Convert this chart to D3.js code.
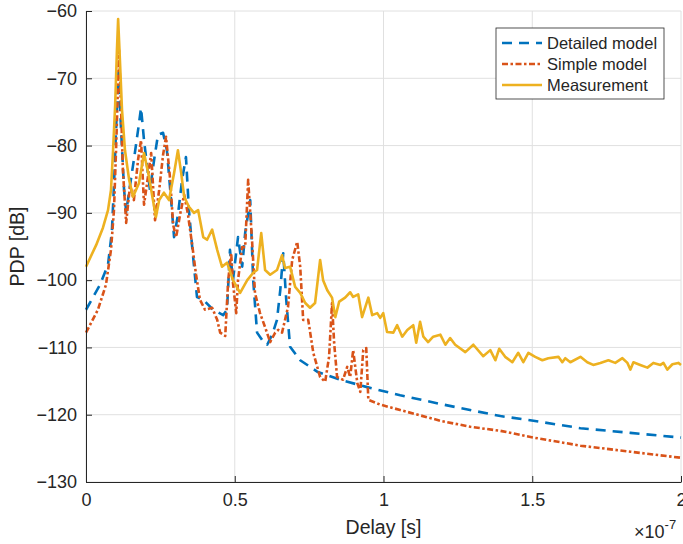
<!DOCTYPE html>
<html>
<head>
<meta charset="utf-8">
<script src="https://cdn.jsdelivr.net/npm/d3@7"></script>
<style>
  body { margin: 0; background: #fff; }
  svg text { font-family: "Liberation Sans", Arial, sans-serif; fill: #262626; }
</style>
</head>
<body>
<div id="chart"></div>
<script>
// delay in units of 1e-7 s, PDP in dB
var detailedModel = [
  [0, -104.4], [0.047, -100.7], [0.074, -97.7], [0.087, -92.8], [0.094, -85.9], [0.101, -77.7],
  [0.109, -69.1], [0.118, -77.7], [0.128, -86.6], [0.135, -89.9], [0.148, -85.9], [0.161, -82.1],
  [0.175, -77.7], [0.185, -74.4], [0.195, -79.2], [0.205, -82.9], [0.215, -86.6], [0.229, -82.1],
  [0.242, -78.4], [0.259, -78.1], [0.272, -80.7], [0.286, -88.1], [0.296, -93.6], [0.309, -90.3],
  [0.323, -85.1], [0.336, -81.7], [0.346, -89.6], [0.357, -95.1], [0.373, -102.5], [0.394, -102.9],
  [0.427, -104.4], [0.461, -105.2], [0.474, -104.4], [0.484, -95.5], [0.494, -100.0], [0.511, -93.6],
  [0.525, -98.0], [0.535, -93.0], [0.552, -88.1], [0.562, -100.0], [0.575, -107.8], [0.592, -108.9],
  [0.609, -109.6], [0.626, -108.1], [0.642, -105.9], [0.653, -101.5], [0.663, -96.0], [0.673, -102.9],
  [0.686, -109.9], [0.720, -111.9], [0.777, -113.6], [0.854, -114.8], [0.945, -115.9], [1.056, -117.1],
  [1.191, -118.4], [1.302, -119.4], [1.393, -120.2], [1.504, -120.9], [1.662, -122.0], [1.830, -122.7],
  [2.0, -123.4]
];

var simpleModel = [
  [0, -107.8], [0.040, -104.4], [0.067, -100.7], [0.084, -95.5], [0.094, -89.6], [0.101, -80.7],
  [0.108, -70.3], [0.111, -65.8], [0.118, -74.7], [0.124, -83.6], [0.135, -91.5], [0.148, -85.9],
  [0.161, -88.1], [0.175, -82.1], [0.185, -79.2], [0.195, -88.8], [0.209, -84.4], [0.219, -81.1],
  [0.232, -91.1], [0.246, -86.6], [0.259, -81.4], [0.269, -78.7], [0.283, -85.1], [0.293, -91.8],
  [0.303, -93.6], [0.316, -90.3], [0.330, -87.3], [0.343, -90.3], [0.357, -94.8], [0.370, -99.2],
  [0.383, -102.9], [0.400, -104.4], [0.424, -104.1], [0.441, -105.9], [0.451, -107.8], [0.468, -108.3],
  [0.478, -100.0], [0.488, -96.0], [0.494, -100.4], [0.505, -104.9], [0.511, -100.0], [0.525, -95.1],
  [0.535, -95.1], [0.545, -85.1], [0.558, -94.0], [0.568, -101.9], [0.585, -104.9], [0.602, -107.0],
  [0.619, -109.2], [0.636, -107.8], [0.646, -107.4], [0.659, -107.8], [0.679, -104.0], [0.693, -97.0],
  [0.710, -94.3], [0.720, -98.0], [0.730, -105.9], [0.747, -105.9], [0.764, -110.8], [0.787, -114.4],
  [0.804, -115.1], [0.817, -111.4], [0.827, -103.4], [0.834, -109.3], [0.844, -114.4], [0.864, -114.8],
  [0.878, -112.9], [0.888, -114.4], [0.898, -110.4], [0.912, -115.3], [0.922, -116.6], [0.932, -110.4],
  [0.942, -110.1], [0.949, -117.8], [0.989, -118.5], [1.056, -119.3], [1.191, -120.9], [1.292, -121.8],
  [1.393, -122.4], [1.504, -123.4], [1.662, -124.6], [1.830, -125.5], [2.0, -126.4]
];

var measurement = [
  [0, -98.0], [0.034, -94.8], [0.057, -92.2], [0.074, -89.6], [0.084, -86.6], [0.091, -80.7],
  [0.098, -74.0], [0.104, -65.8], [0.108, -61.2], [0.114, -67.3], [0.121, -74.7], [0.131, -80.7],
  [0.145, -85.1], [0.158, -87.6], [0.178, -85.6], [0.195, -81.1], [0.212, -84.7], [0.225, -88.1],
  [0.235, -90.6], [0.246, -88.1], [0.262, -87.0], [0.279, -88.1], [0.296, -84.1], [0.309, -80.7],
  [0.320, -84.1], [0.330, -87.6], [0.346, -89.1], [0.363, -90.0], [0.377, -89.6], [0.394, -93.6],
  [0.407, -94.0], [0.424, -92.5], [0.441, -95.5], [0.457, -98.0], [0.474, -97.4], [0.494, -100.0],
  [0.518, -101.9], [0.542, -100.0], [0.562, -98.9], [0.575, -98.5], [0.589, -93.0], [0.602, -98.5],
  [0.619, -99.2], [0.642, -98.5], [0.659, -96.3], [0.669, -98.2], [0.686, -98.0], [0.703, -101.0],
  [0.720, -101.9], [0.737, -103.4], [0.753, -104.1], [0.770, -103.4], [0.787, -97.0], [0.797, -100.0],
  [0.811, -101.5], [0.827, -102.6], [0.838, -105.5], [0.851, -103.2], [0.871, -102.6], [0.888, -101.8],
  [0.898, -102.5], [0.915, -102.1], [0.928, -105.5], [0.949, -102.6], [0.962, -105.2], [0.979, -104.9],
  [0.989, -105.6], [0.999, -104.9], [1.012, -107.7], [1.033, -107.8], [1.046, -106.7], [1.063, -108.4],
  [1.080, -107.4], [1.100, -106.7], [1.110, -109.3], [1.123, -106.2], [1.134, -108.4], [1.150, -109.2],
  [1.167, -108.4], [1.191, -108.1], [1.208, -109.6], [1.224, -108.6], [1.241, -109.6], [1.275, -110.7],
  [1.302, -109.6], [1.335, -111.3], [1.359, -110.4], [1.376, -111.9], [1.389, -110.2], [1.409, -111.4],
  [1.433, -112.2], [1.453, -110.8], [1.470, -112.2], [1.487, -110.8], [1.510, -111.4], [1.534, -111.9],
  [1.554, -111.6], [1.588, -111.4], [1.601, -112.2], [1.611, -111.6], [1.628, -112.2], [1.662, -111.4],
  [1.685, -112.2], [1.705, -112.6], [1.729, -112.3], [1.756, -111.9], [1.779, -112.3], [1.803, -111.6],
  [1.820, -112.3], [1.830, -113.3], [1.840, -112.2], [1.863, -112.6], [1.887, -113.0], [1.907, -112.3],
  [1.931, -112.6], [1.941, -112.3], [1.954, -113.3], [1.971, -112.5], [1.991, -112.3], [2.0, -112.6]
];

var xTicks = [0, 0.5, 1, 1.5, 2];
var xTickLabels = ["0", "0.5", "1", "1.5", "2"];
var yTicks = [-130, -120, -110, -100, -90, -80, -70, -60];
var legendNames = ["Detailed model", "Simple model", "Measurement"];

// Set the dimensions of the canvas / graph
var W = 683, H = 544;
var margin = {top: 11, right: 2, bottom: 62, left: 86},
    width = W - margin.left - margin.right,
    height = H - margin.top - margin.bottom;

var x = d3.scaleLinear().domain([0, 2]).range([0, width]);
var y = d3.scaleLinear().domain([-130, -60]).range([height, 0]);

var svg = d3.select("#chart")
  .append("svg")
    .attr("width", W)
    .attr("height", H)
  .append("g")
    .attr("transform", "translate(" + margin.left + "," + margin.top + ")");

// grid
svg.append("g")
  .attr("class", "grid")
  .selectAll("line.gx")
  .data(xTicks)
  .enter().append("line")
    .attr("x1", function(d) { return x(d); })
    .attr("x2", function(d) { return x(d); })
    .attr("y1", 0).attr("y2", height)
    .attr("stroke", "#e0e0e0").attr("stroke-width", 1);

svg.append("g")
  .attr("class", "grid")
  .selectAll("line.gy")
  .data(yTicks)
  .enter().append("line")
    .attr("x1", 0).attr("x2", width)
    .attr("y1", function(d) { return y(d); })
    .attr("y2", function(d) { return y(d); })
    .attr("stroke", "#e0e0e0").attr("stroke-width", 1);

// series
var line = d3.line()
  .x(function(d) { return x(d[0]); })
  .y(function(d) { return y(d[1]); });

var series = [
  {data: detailedModel, color: "#0072BD", dash: "10,7", width: 2.6},
  {data: simpleModel, color: "#D95319", dash: "6,2.5,2.5,2.5", width: 2.6},
  {data: measurement, color: "#EDB120", dash: null, width: 2.6}
];

series.forEach(function(s) {
  svg.append("path")
    .datum(s.data)
    .attr("fill", "none")
    .attr("stroke", s.color)
    .attr("stroke-width", s.width)
    .attr("stroke-linejoin", "round")
    .attr("stroke-dasharray", s.dash)
    .attr("d", line);
});

// axes
var xAxis = svg.append("g")
  .attr("transform", "translate(0," + height + ")")
  .call(d3.axisBottom(x).tickValues(xTicks)
    .tickFormat(function(d, i) { return xTickLabels[i]; })
    .tickSizeInner(-6).tickSizeOuter(0).tickPadding(11));

var yAxis = svg.append("g")
  .call(d3.axisLeft(y).tickValues(yTicks)
    .tickSizeInner(-6).tickSizeOuter(0).tickPadding(9));

[xAxis, yAxis].forEach(function(a) {
  a.select(".domain").attr("stroke", "#262626").attr("stroke-width", 1);
  a.selectAll(".tick line").attr("stroke", "#262626");
  a.selectAll(".tick text")
    .attr("fill", "#262626")
    .style("font-size", "18px")
    .style("font-family", "'Liberation Sans', Arial, sans-serif");
});

// axis labels
svg.append("text")
  .attr("x", width / 2)
  .attr("y", height + 52)
  .attr("text-anchor", "middle")
  .style("font-size", "19.5px")
  .text("Delay [s]");

svg.append("text")
  .attr("transform", "translate(" + (-62) + "," + (height / 2) + ") rotate(-90)")
  .attr("text-anchor", "middle")
  .style("font-size", "19.5px")
  .text("PDP [dB]");

// exponent
var expo = svg.append("text")
  .attr("x", width - 47)
  .attr("y", height + 56)
  .style("font-size", "18px");
expo.append("tspan").text("\u00d710");
expo.append("tspan")
  .attr("dy", -9)
  .style("font-size", "13px")
  .text("-7");

// legend
var lg = svg.append("g")
  .attr("transform", "translate(" + (496 - margin.left) + "," + (28 - margin.top) + ")");

lg.append("rect")
  .attr("width", 168).attr("height", 71)
  .attr("fill", "#fff")
  .attr("stroke", "#262626").attr("stroke-width", 0.8);

series.forEach(function(s, i) {
  var yy = 15 + i * 21;
  lg.append("line")
    .attr("x1", 6).attr("x2", 46)
    .attr("y1", yy).attr("y2", yy)
    .attr("stroke", s.color)
    .attr("stroke-width", s.width)
    .attr("stroke-dasharray", s.dash);
  lg.append("text")
    .attr("x", 51).attr("y", yy)
    .attr("dy", "0.35em")
    .style("font-size", "16.5px")
    .text(legendNames[i]);
});
</script>
</body>
</html>
